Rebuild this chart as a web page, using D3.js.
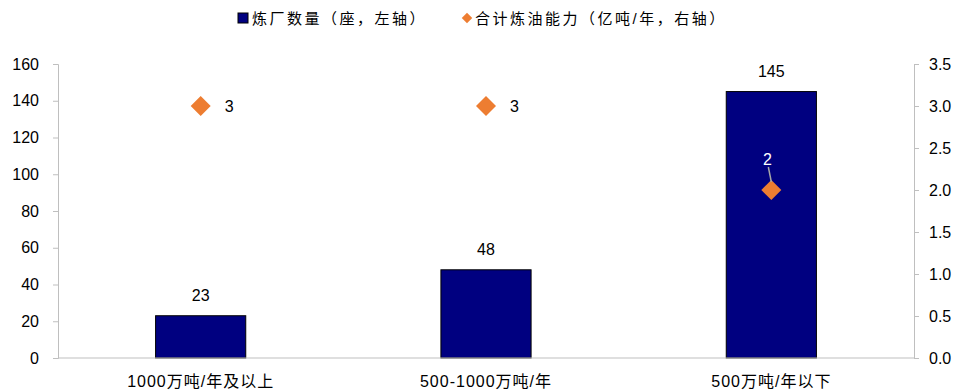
<!DOCTYPE html>
<html>
<head>
<meta charset="utf-8">
<script src="https://cdn.jsdelivr.net/npm/d3@7"></script>
<style>
  body { margin: 0; background: #fff; }
  svg text { font-family: "Liberation Sans", Arial, "Noto Sans CJK SC", sans-serif; }
</style>
</head>
<body>
<svg id="chart" width="971" height="391"></svg>
<script>
// Refinery counts by capacity class, plus combined refining capacity
const categories = ["1000万吨/年及以上", "500-1000万吨/年", "500万吨/年以下"];
const refineryCount = [23, 48, 145];        // 座, left axis
const totalCapacity = [3, 3, 2];            // 亿吨/年, right axis
const leftTicks = [0, 20, 40, 60, 80, 100, 120, 140, 160];
const rightTicks = [0, 0.5, 1.0, 1.5, 2.0, 2.5, 3.0, 3.5];
const legendLabels = ["炼厂数量（座，左轴）", "合计炼油能力（亿吨/年，右轴）"];

const svg = d3.select("#chart");
const margin = { left: 58, right: 57, top: 64, bottom: 33 };
const W = 971, H = 391;
const x0 = margin.left, x1 = W - margin.right;
const yTop = margin.top, yBot = H - margin.bottom;

const x = d3.scaleBand().domain(categories).range([x0, x1]).paddingInner(0.684).paddingOuter(0.342);
const yL = d3.scaleLinear().domain([0, 160]).range([yBot, yTop]);
const yR = d3.scaleLinear().domain([0, 3.5]).range([yBot, yTop]);

const axisColor = "#BFBFBF";

// Left axis
const gL = svg.append("g").attr("transform", `translate(${x0},0)`)
  .call(d3.axisLeft(yL).tickValues(leftTicks).tickSize(5).tickPadding(14).tickFormat(d3.format("d")));
gL.selectAll("path, line").attr("stroke", axisColor);
gL.selectAll("text").attr("font-size", 16).attr("fill", "#000");

// Right axis
const gR = svg.append("g").attr("transform", `translate(${x1},0)`)
  .call(d3.axisRight(yR).tickValues(rightTicks).tickSize(5).tickPadding(10).tickFormat(d3.format(".1f")));
gR.selectAll("path, line").attr("stroke", axisColor);
gR.selectAll("text").attr("font-size", 16).attr("fill", "#000");

// Bars
svg.append("g").selectAll("rect").data(categories).join("rect")
  .attr("x", d => x(d))
  .attr("width", x.bandwidth())
  .attr("y", (d, i) => yL(refineryCount[i]))
  .attr("height", (d, i) => yBot - yL(refineryCount[i]))
  .attr("fill", "#000080")
  .attr("stroke", "#000")
  .attr("stroke-width", 1);

// Baseline
svg.append("line").attr("x1", x0).attr("x2", x1).attr("y1", yBot).attr("y2", yBot)
  .attr("stroke", axisColor);

// Bar value labels
svg.append("g").selectAll("text").data(categories).join("text")
  .attr("x", d => x(d) + x.bandwidth() / 2)
  .attr("y", (d, i) => yL(refineryCount[i]) - 15)
  .attr("text-anchor", "middle")
  .attr("font-size", 16)
  .text((d, i) => refineryCount[i]);

// Category labels
svg.append("g").selectAll("text").data(categories).join("text")
  .attr("x", d => x(d) + x.bandwidth() / 2)
  .attr("y", 387)
  .attr("text-anchor", "middle")
  .attr("font-size", 16)
  .attr("letter-spacing", 1)
  .text(d => d);

// Capacity markers
const diamond = d3.symbol().type(d3.symbolSquare).size(200);
const cx = d => x(d) + x.bandwidth() / 2;
svg.append("g").selectAll("path").data(categories).join("path")
  .attr("d", diamond)
  .attr("transform", (d, i) => `translate(${cx(d)},${yR(totalCapacity[i])}) rotate(45)`)
  .attr("fill", "#ED7D31");

// Capacity labels: right of the marker, or above with a leader inside the tall bar
categories.forEach((d, i) => {
  const px = cx(d), py = yR(totalCapacity[i]);
  if (i < 2) {
    svg.append("text").attr("x", px + 24).attr("y", py + 6)
      .attr("font-size", 16).attr("text-anchor", "start").text(totalCapacity[i]);
  } else {
    svg.append("line").attr("x1", px - 3).attr("y1", py - 23).attr("x2", px).attr("y2", py - 8)
      .attr("stroke", "#A6A6A6").attr("stroke-width", 1.5);
    svg.append("text").attr("x", px - 4).attr("y", py - 25)
      .attr("font-size", 16).attr("text-anchor", "middle").attr("fill", "#fff").text(totalCapacity[i]);
  }
});

// Legend
const lg = svg.append("g");
lg.append("rect").attr("x", 238).attr("y", 13).attr("width", 10).attr("height", 10)
  .attr("fill", "#000080").attr("stroke", "#000");
lg.append("text").attr("x", 252).attr("y", 24).attr("font-size", 15).attr("letter-spacing", 2.5).text(legendLabels[0]);
lg.append("path").attr("d", d3.symbol().type(d3.symbolSquare).size(55))
  .attr("transform", "translate(467,18) rotate(45)").attr("fill", "#ED7D31");
lg.append("text").attr("x", 475).attr("y", 24).attr("font-size", 15).attr("letter-spacing", 2.5).text(legendLabels[1]);
</script>
</body>
</html>
